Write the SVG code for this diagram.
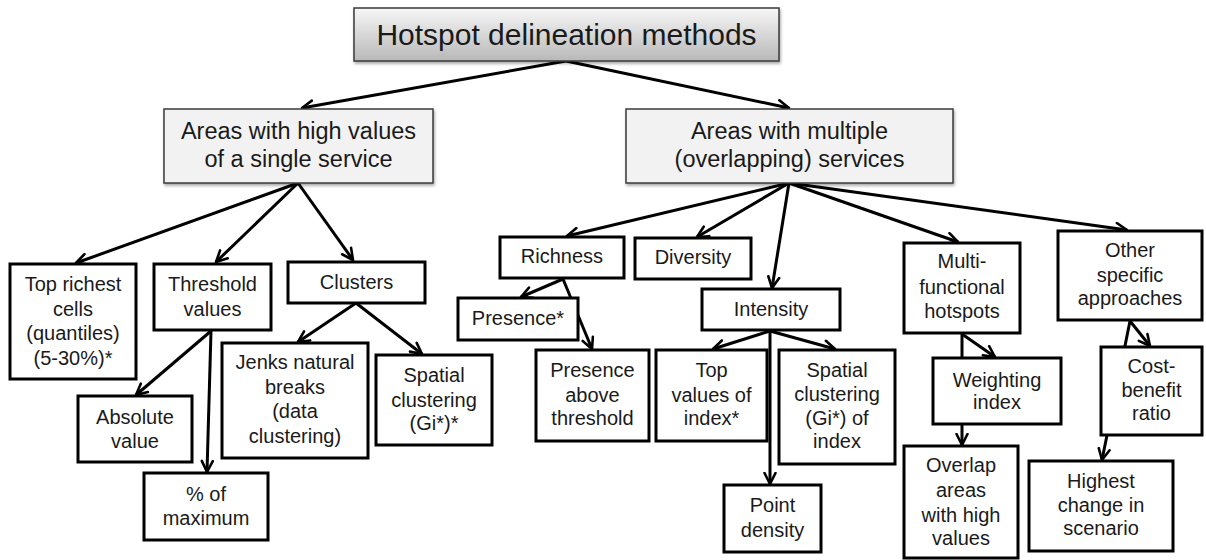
<svg xmlns="http://www.w3.org/2000/svg" width="1206" height="560" viewBox="0 0 1206 560">
<style>
text{font-family:"Liberation Sans",Arial,sans-serif;fill:#1a1a1a;text-anchor:middle}
.t0{font-size:30px}
.t1{font-size:23.5px}
.t2{font-size:20px}
.b{fill:#fff;stroke:#000;stroke-width:3}
.g{fill:#f2f2f2;stroke:#3a3a3a;stroke-width:1.5;filter:url(#sh)}
.c{fill:none;stroke:#000;stroke-width:3;marker-end:url(#ah)}
</style>
<defs>
<linearGradient id="gr" x1="0" y1="0" x2="0" y2="1">
<stop offset="0" stop-color="#f7f7f7"/>
<stop offset="1" stop-color="#b8b8b8"/>
</linearGradient>
<filter id="sh" x="-10%" y="-10%" width="120%" height="130%">
<feDropShadow dx="1" dy="2" stdDeviation="1.5" flood-color="#000" flood-opacity="0.35"/>
</filter>
<marker id="ah" viewBox="0 0 14 14" refX="12.5" refY="7" markerWidth="14" markerHeight="14" markerUnits="userSpaceOnUse" orient="auto">
<path d="M1.5,1.5 L12.5,7 L1.5,12.5" fill="none" stroke="#000" stroke-width="2.6" stroke-linecap="round" stroke-linejoin="round"/>
</marker>
</defs>
<g id="connectors">
<line class="c" x1="566" y1="61" x2="302" y2="108"/>
<line class="c" x1="566" y1="61" x2="789" y2="108"/>
<line class="c" x1="298" y1="183" x2="76" y2="263"/>
<line class="c" x1="298" y1="183" x2="216" y2="262"/>
<line class="c" x1="298" y1="183" x2="353" y2="260"/>
<line class="c" x1="211" y1="331" x2="136" y2="395"/>
<line class="c" x1="211" y1="331" x2="207" y2="472"/>
<line class="c" x1="356" y1="303" x2="298" y2="342"/>
<line class="c" x1="356" y1="303" x2="422" y2="354"/>
<line class="c" x1="789" y1="183" x2="567" y2="236"/>
<line class="c" x1="789" y1="183" x2="697" y2="237"/>
<line class="c" x1="789" y1="183" x2="772" y2="288"/>
<line class="c" x1="789" y1="183" x2="958" y2="242"/>
<line class="c" x1="789" y1="183" x2="1127" y2="230"/>
<line class="c" x1="563" y1="279" x2="521" y2="297"/>
<line class="c" x1="563" y1="279" x2="592" y2="349"/>
<line class="c" x1="770" y1="331" x2="713" y2="349"/>
<line class="c" x1="770" y1="331" x2="770" y2="484"/>
<line class="c" x1="770" y1="331" x2="835" y2="349"/>
<line class="c" x1="962" y1="334" x2="995" y2="357"/>
<line class="c" x1="962" y1="334" x2="962" y2="445"/>
<line class="c" x1="1130" y1="321" x2="1150" y2="346"/>
<line class="c" x1="1130" y1="321" x2="1102" y2="460"/>
</g>
<g id="n-title">
<rect x="354" y="8" width="425" height="53" fill="url(#gr)" stroke="#3a3a3a" stroke-width="1.5" filter="url(#sh)"/>
<text class="t0" x="566.5" y="45">Hotspot delineation methods</text>
</g>
<g id="n-single">
<rect class="g" x="164" y="109" width="269" height="74"/>
<text class="t1" x="298.5" y="139">Areas with high values</text>
<text class="t1" x="298.5" y="167">of a single service</text>
</g>
<g id="n-multiple">
<rect class="g" x="626" y="109" width="327" height="74"/>
<text class="t1" x="789.5" y="139">Areas with multiple</text>
<text class="t1" x="789.5" y="167">(overlapping) services</text>
</g>
<g id="n-toprichest">
<rect class="b" x="10" y="264" width="126" height="115"/>
<text class="t2" x="73" y="291">Top richest</text>
<text class="t2" x="73" y="316">cells</text>
<text class="t2" x="73" y="340">(quantiles)</text>
<text class="t2" x="73" y="365">(5-30%)*</text>
</g>
<g id="n-threshold">
<rect class="b" x="154" y="264" width="117" height="66"/>
<text class="t2" x="212.5" y="291">Threshold</text>
<text class="t2" x="212.5" y="316">values</text>
</g>
<g id="n-clusters">
<rect class="b" x="288" y="262" width="137" height="41"/>
<text class="t2" x="356.5" y="289">Clusters</text>
</g>
<g id="n-absolute">
<rect class="b" x="78" y="396" width="114" height="66"/>
<text class="t2" x="135" y="424">Absolute</text>
<text class="t2" x="135" y="448">value</text>
</g>
<g id="n-percent">
<rect class="b" x="144" y="473" width="124" height="67"/>
<text class="t2" x="206" y="501">% of</text>
<text class="t2" x="206" y="525">maximum</text>
</g>
<g id="n-jenks">
<rect class="b" x="222" y="343" width="146" height="115"/>
<text class="t2" x="295" y="369">Jenks natural</text>
<text class="t2" x="295" y="394">breaks</text>
<text class="t2" x="295" y="418">(data</text>
<text class="t2" x="295" y="443">clustering)</text>
</g>
<g id="n-spatialgi">
<rect class="b" x="376" y="355" width="116" height="90"/>
<text class="t2" x="434" y="382">Spatial</text>
<text class="t2" x="434" y="407">clustering</text>
<text class="t2" x="434" y="430">(Gi*)*</text>
</g>
<g id="n-richness">
<rect class="b" x="500" y="237" width="124" height="41"/>
<text class="t2" x="562" y="263">Richness</text>
</g>
<g id="n-diversity">
<rect class="b" x="635" y="238" width="116" height="41"/>
<text class="t2" x="693" y="264">Diversity</text>
</g>
<g id="n-presence">
<rect class="b" x="458" y="298" width="120" height="42"/>
<text class="t2" x="518" y="325">Presence*</text>
</g>
<g id="n-presabove">
<rect class="b" x="536" y="350" width="113" height="91"/>
<text class="t2" x="592.5" y="377">Presence</text>
<text class="t2" x="592.5" y="402">above</text>
<text class="t2" x="592.5" y="425">threshold</text>
</g>
<g id="n-intensity">
<rect class="b" x="702" y="289" width="138" height="41"/>
<text class="t2" x="771" y="316">Intensity</text>
</g>
<g id="n-topvalues">
<rect class="b" x="656" y="350" width="111" height="91"/>
<text class="t2" x="711.5" y="377">Top</text>
<text class="t2" x="711.5" y="402">values of</text>
<text class="t2" x="711.5" y="425">index*</text>
</g>
<g id="n-spatialidx">
<rect class="b" x="779" y="350" width="116" height="114"/>
<text class="t2" x="837" y="377">Spatial</text>
<text class="t2" x="837" y="401">clustering</text>
<text class="t2" x="837" y="425">(Gi*) of</text>
<text class="t2" x="837" y="448">index</text>
</g>
<g id="n-pointdensity">
<rect class="b" x="724" y="485" width="97" height="67"/>
<text class="t2" x="772.5" y="512">Point</text>
<text class="t2" x="772.5" y="537">density</text>
</g>
<g id="n-multifunc">
<rect class="b" x="904" y="243" width="116" height="90"/>
<text class="t2" x="962" y="268">Multi-</text>
<text class="t2" x="962" y="294">functional</text>
<text class="t2" x="962" y="318">hotspots</text>
</g>
<g id="n-weighting">
<rect class="b" x="933" y="358" width="128" height="66"/>
<text class="t2" x="997" y="387">Weighting</text>
<text class="t2" x="997" y="409">index</text>
</g>
<g id="n-overlap">
<rect class="b" x="904" y="446" width="114" height="112"/>
<text class="t2" x="961" y="472">Overlap</text>
<text class="t2" x="961" y="497">areas</text>
<text class="t2" x="961" y="522">with high</text>
<text class="t2" x="961" y="545">values</text>
</g>
<g id="n-other">
<rect class="b" x="1058" y="231" width="144" height="89"/>
<text class="t2" x="1130" y="257">Other</text>
<text class="t2" x="1130" y="282">specific</text>
<text class="t2" x="1130" y="305">approaches</text>
</g>
<g id="n-costbenefit">
<rect class="b" x="1101" y="347" width="101" height="88"/>
<text class="t2" x="1151.5" y="373">Cost-</text>
<text class="t2" x="1151.5" y="397">benefit</text>
<text class="t2" x="1151.5" y="420">ratio</text>
</g>
<g id="n-highest">
<rect class="b" x="1029" y="461" width="144" height="90"/>
<text class="t2" x="1101" y="488">Highest</text>
<text class="t2" x="1101" y="512">change in</text>
<text class="t2" x="1101" y="535">scenario</text>
</g>
</svg>
